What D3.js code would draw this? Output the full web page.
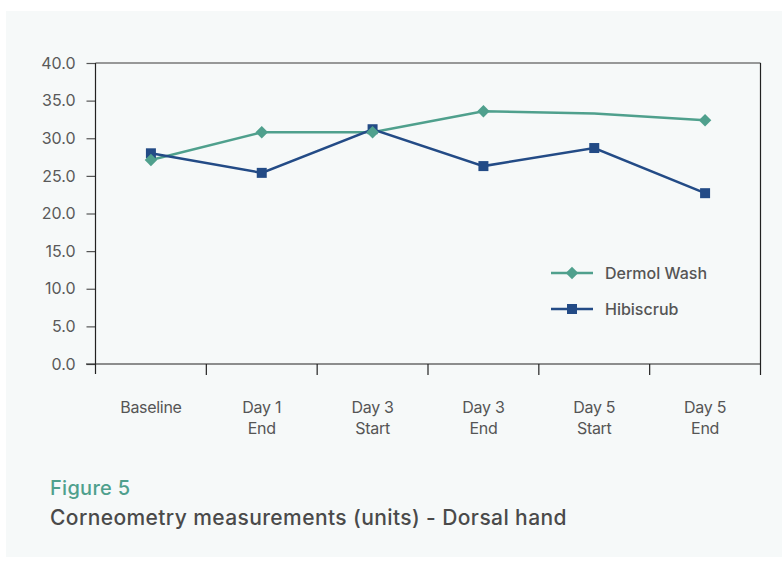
<!DOCTYPE html>
<html><head><meta charset="utf-8">
<script src="https://cdn.jsdelivr.net/npm/d3@7/dist/d3.min.js"></script>
<style>html,body{margin:0;padding:0;background:#fff;}svg{display:block;}</style>
</head><body>
<script>
const categories = [["Baseline"],["Day 1","End"],["Day 3","Start"],["Day 3","End"],["Day 5","Start"],["Day 5","End"]];
const dermolWash = [27.1, 30.8, 30.8, 33.6, 33.3, 32.4];
const hibiscrub = [28.0, 25.4, 31.2, 26.3, 28.7, 22.7];
const dermolHiddenMarkers = [4];
const yTicks = [0,5,10,15,20,25,30,35,40];
const seriesNames = ["Dermol Wash","Hibiscrub"];

(function(){
const W = 782, H = 561;
const svg = d3.select("body").append("svg").attr("width", W).attr("height", H);
const font = "Inter, 'Open Sans', sans-serif";
svg.append("rect").attr("x",6).attr("y",11).attr("width",W-6).attr("height",546).attr("fill","#f6f9f9");

const pL = 95.5, pR = 760.5, pT = 63, pB = 364;
const x = d3.scaleBand().domain(d3.range(categories.length)).range([pL, pR]);
const y = d3.scaleLinear().domain([0,40]).range([pB, pT]);

svg.append("line").attr("x1",pL).attr("x2",pR).attr("y1",pT).attr("y2",pT).attr("stroke","#777").attr("stroke-width",1.5);
svg.append("line").attr("x1",pR).attr("x2",pR).attr("y1",pT).attr("y2",375).attr("stroke","#222").attr("stroke-width",1.2);

const yAxis = d3.axisLeft(y).tickValues(yTicks).tickFormat(d3.format(".1f")).tickSize(9).tickPadding(11);
const gy = svg.append("g").attr("transform",`translate(${pL},0)`).call(yAxis);
gy.select(".domain").remove();
gy.append("line").attr("x1",0).attr("x2",0).attr("y1",pT).attr("y2",374).attr("stroke","#222").attr("stroke-width",1.2);
gy.selectAll(".tick line").attr("stroke","#555").attr("stroke-width",1.2);
gy.selectAll(".tick text").attr("fill","#5a5a5a").attr("font-family",font).attr("font-size",16);

svg.append("line").attr("x1",86).attr("x2",pR).attr("y1",pB).attr("y2",pB).attr("stroke","#222").attr("stroke-width",1.2);
const boundaries = d3.range(1, categories.length).map(i => x(i));
svg.selectAll(".xt").data(boundaries).join("line")
  .attr("x1",d=>d).attr("x2",d=>d).attr("y1",pB).attr("y2",375).attr("stroke","#222").attr("stroke-width",1.2);
const xl = svg.selectAll(".xl").data(categories).join("text")
  .attr("x",(d,i)=>x(i)+x.bandwidth()/2).attr("y",413)
  .attr("text-anchor","middle").attr("fill","#555").attr("font-family",font).attr("font-size",16).attr("letter-spacing",-0.3);
xl.selectAll("tspan").data(d=>d).join("tspan")
  .attr("x",function(){return this.parentNode.getAttribute("x");})
  .attr("dy",(d,i)=>i?21:0).text(d=>d);

const green = "#4fa08d", blue = "#234b86";
const line = d3.line().x((d,i)=>x(i)+x.bandwidth()/2).y(d=>y(d));
svg.append("path").datum(dermolWash).attr("d",line).attr("fill","none").attr("stroke",green).attr("stroke-width",2.5);
svg.append("path").datum(hibiscrub).attr("d",line).attr("fill","none").attr("stroke",blue).attr("stroke-width",2.5);

const sq = d3.symbol().type(d3.symbolSquare).size(100);
const dia = d3.symbol().type(d3.symbolSquare).size(78);
svg.selectAll(".hm").data(hibiscrub).join("path")
  .attr("transform",(d,i)=>`translate(${x(i)+x.bandwidth()/2},${y(d)})`).attr("d",sq).attr("fill",blue);
svg.selectAll(".dm").data(dermolWash.map((v,i)=>({v,i})).filter(d=>!dermolHiddenMarkers.includes(d.i))).join("path")
  .attr("transform",d=>`translate(${x(d.i)+x.bandwidth()/2},${y(d.v)}) rotate(45)`).attr("d",dia).attr("fill",green);

const legend = [{name:seriesNames[0],c:green,s:dia,r:45,y:273},{name:seriesNames[1],c:blue,s:sq,r:0,y:309}];
legend.forEach(l=>{
  svg.append("line").attr("x1",551).attr("x2",593).attr("y1",l.y).attr("y2",l.y).attr("stroke",l.c).attr("stroke-width",2.5);
  svg.append("path").attr("transform",`translate(572,${l.y}) rotate(${l.r})`).attr("d",l.s).attr("fill",l.c);
  svg.append("text").attr("x",605).attr("y",l.y+6).attr("fill","#555").attr("font-family",font).attr("font-size",16).attr("font-weight",500).text(l.name);
});

svg.append("text").attr("x",50).attr("y",495).attr("fill",green).attr("font-family",font).attr("font-size",20).attr("font-weight",500).attr("letter-spacing",0.3).text("Figure 5");
svg.append("text").attr("x",50).attr("y",525).attr("fill","#4a4a4a").attr("font-family",font).attr("font-size",21).attr("font-weight",500).attr("letter-spacing",0.4).text("Corneometry measurements (units) - Dorsal hand");
})();
</script>
</body></html>
